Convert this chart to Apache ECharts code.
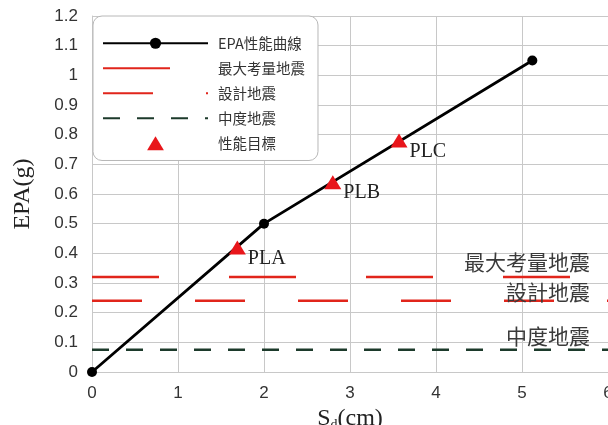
<!DOCTYPE html>
<html>
<head>
<meta charset="utf-8">
<script src="https://cdn.jsdelivr.net/npm/echarts@6/dist/echarts.min.js"></script>
<style>html,body{margin:0;padding:0;background:#fff;}#c{width:608px;height:425px;}</style>
</head>
<body>
<div id="c"></div>
<script>
var xTicks = [0, 1, 2, 3, 4, 5, 6];
var curveData = [[0, 0], [2.0, 0.5], [5.12, 1.05]];
var targetNames = ['PLA', 'PLB', 'PLC'];
var targetData = [[1.69, 0.42], [2.8, 0.64], [3.57, 0.78]];
var mceLevel = 0.32;
var dbeLevel = 0.24;
var modLevel = 0.075;
var seriesNames = ['EPA性能曲線', '最大考量地震', '設計地震', '中度地震', '性能目標'];

var chart = echarts.init(document.getElementById('c'));
var cjk = '"Noto Sans CJK TC", "Noto Sans CJK SC", sans-serif';
var serif = '"Liberation Serif", "DejaVu Serif", serif';

function hLine(name, level, color, dash, off) {
  return {
    name: name, type: 'line', symbol: 'none', z: 2,
    data: [[xTicks[0], level], [xTicks[xTicks.length - 1], level]],
    lineStyle: { color: color, width: 2.5, type: dash },
    itemStyle: { color: color },
    endLabel: {
      show: true, formatter: name, distance: 0, align: 'right', verticalAlign: 'bottom',
      offset: [-18, off], fontFamily: cjk, fontSize: 21, color: '#3a3a3a'
    }
  };
}

chart.setOption({
  animation: false,
  backgroundColor: '#fff',
  grid: { left: 92, right: 0, top: 16, bottom: 53, containLabel: false, outerBoundsMode: 'none' },
  legend: {
    orient: 'vertical', left: 93, top: 16,
    data: [
      { name: seriesNames[0] },
      { name: seriesNames[1], itemStyle: { opacity: 0 } },
      { name: seriesNames[2], itemStyle: { opacity: 0 } },
      { name: seriesNames[3], itemStyle: { opacity: 0 } },
      { name: seriesNames[4], icon: 'path://M0,0 M105,15 M43.5,15 L52.5,0 L61.5,15 Z' }
    ],
    symbolKeepAspect: true,
    itemWidth: 105, itemHeight: 14, itemGap: 10.5,
    padding: [20, 13, 10, 9],
    backgroundColor: '#fff', borderColor: '#b8b8b8', borderWidth: 1, borderRadius: 9,
    textStyle: { fontFamily: cjk, fontSize: 14.5, color: '#333', padding: [0, 0, 0, 5] }
  },
  xAxis: {
    type: 'value', min: 0, max: 6, interval: 1,
    name: 'S{sub|d}(cm)', nameLocation: 'middle', nameGap: 32,
    nameTextStyle: { fontFamily: serif, fontSize: 24, color: '#222', verticalAlign: 'top',
      rich: { sub: { fontFamily: serif, fontSize: 14, verticalAlign: 'bottom', padding: [12, 0, 0, 0], color: '#222' } } },
    axisLine: { show: true, lineStyle: { color: '#c8c8c8', width: 1 } },
    axisTick: { show: false },
    axisLabel: { fontFamily: '"Liberation Sans", Arial, sans-serif', fontSize: 17, color: '#333', margin: 13 },
    splitLine: { show: true, lineStyle: { color: '#c8c8c8', width: 1 } }
  },
  yAxis: {
    type: 'value', min: 0, max: 1.2, interval: 0.1,
    name: 'EPA(g)', nameLocation: 'middle', nameGap: 57, nameRotate: 90,
    nameTextStyle: { fontFamily: serif, fontSize: 24, color: '#222' },
    axisLine: { show: true, lineStyle: { color: '#c8c8c8', width: 1 } },
    axisTick: { show: false },
    axisLabel: { fontFamily: '"Liberation Sans", Arial, sans-serif', fontSize: 17, color: '#333', margin: 14,
      formatter: function (v) { return String(Math.round(v * 10) / 10); } },
    splitLine: { show: true, lineStyle: { color: '#c8c8c8', width: 1 } }
  },
  series: [
    {
      name: seriesNames[0], type: 'line', data: curveData, z: 4,
      symbol: 'circle', symbolSize: 10, showSymbol: true,
      lineStyle: { color: '#000', width: 2.8 }, itemStyle: { color: '#000' }
    },
    hLine(seriesNames[1], mceLevel, '#e1251b', [67, 70], -5),
    hLine(seriesNames[2], dbeLevel, '#e1251b', [50, 53], 2),
    hLine(seriesNames[3], modLevel, '#1c3a2b', [17, 17], -3),
    {
      name: seriesNames[4], type: 'scatter', z: 5,
      symbol: 'triangle', symbolSize: [17, 14],
      itemStyle: { color: '#e8161b', opacity: 1 },
      data: targetData.map(function (d, i) { return { value: d, name: targetNames[i] }; }),
      label: { show: true, formatter: '{b}', position: 'right', distance: 2, offset: [0, 11],
        fontFamily: serif, fontSize: 20, color: '#222' }
    }
  ]
});
</script>
</body>
</html>
